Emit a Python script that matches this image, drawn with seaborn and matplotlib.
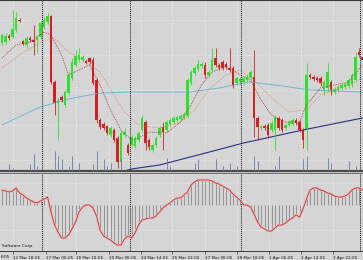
import numpy as np
import pandas as pd
import matplotlib
matplotlib.use("Agg")
import matplotlib.pyplot as plt
import seaborn as sns

# ---------------- data (price in chart points) ----------------
opens = [127, 128, 134, 133, 140, 150, 129, 125, 132, 130,
         130, 133, 143, 148, 154, 88, 67, 73, 65, 77,
         92, 105, 110, 110, 109, 112, 110, 90, 50, 46,
         44, 35, 40, 32, 8, 35, 25, 25, 24, 30,
         40, 48, 30, 20, 25, 35, 43, 40, 46, 48,
         50, 51, 53, 54, 87, 97, 101, 104, 105, 95,
         100, 112, 105, 108, 106, 102, 102, 87, 88, 88,
         90, 92, 93, 52, 42, 44, 45, 40, 40, 52,
         50, 42, 45, 46, 50, 48, 40, 40, 95, 93,
         92, 92, 80, 82, 88, 78, 80, 82, 83, 84,
         85, 90, 118, 113]
highs = [137, 137, 136, 160, 158, 152, 130, 134, 134, 145,
         135, 149, 153, 157, 155, 90, 72, 75, 80, 98,
         112, 120, 122, 115, 111, 113, 113, 92, 52, 48,
         45, 44, 42, 34, 40, 42, 27, 35, 34, 39,
         55, 50, 32, 27, 34, 44, 48, 50, 52, 54,
         55, 56, 58, 92, 100, 104, 110, 108, 108, 100,
         122, 122, 107, 110, 108, 122, 104, 94, 93, 94,
         95, 100, 120, 54, 45, 46, 47, 49, 55, 54,
         52, 47, 50, 52, 52, 50, 42, 107, 97, 95,
         94, 94, 90, 107, 90, 83, 85, 87, 88, 92,
         97, 118, 122, 115]
lows = [125, 126, 130, 132, 138, 148, 125, 123, 128, 115,
        117, 131, 141, 146, 86, 55, 30, 68, 63, 75,
        90, 103, 108, 108, 106, 106, 85, 47, 41, 40,
        35, 33, 28, 2, 5, 33, 15, 23, 22, 28,
        38, 20, 20, 18, 23, 33, 20, 38, 44, 46,
        48, 49, 51, 52, 85, 95, 99, 102, 92, 93,
        98, 103, 100, 100, 101, 98, 82, 85, 86, 86,
        88, 90, 33, 30, 40, 40, 32, 38, 20, 40,
        38, 40, 43, 44, 45, 38, 22, 20, 91, 89,
        88, 84, 75, 78, 75, 76, 78, 80, 81, 82,
        83, 88, 113, 108]
closes = [135, 134, 132, 141, 152, 149, 126, 132, 130, 128,
          133, 147, 150, 154, 88, 67, 70, 70, 78, 95,
          108, 114, 115, 113, 107, 108, 87, 50, 43, 42,
          37, 42, 30, 8, 37, 38, 17, 33, 32, 37,
          52, 27, 23, 25, 32, 42, 38, 48, 50, 52,
          53, 54, 56, 90, 98, 102, 106, 106, 95, 98,
          110, 105, 102, 102, 103, 100, 85, 92, 91, 92,
          93, 98, 52, 43, 44, 42, 35, 47, 53, 42,
          40, 45, 48, 50, 47, 40, 30, 95, 93, 91,
          90, 87, 88, 98, 80, 81, 83, 85, 86, 90,
          95, 113, 115, 110]

vol_bar = [2, 3, 8, 9, 10, 15, 16, 17, 19, 20, 22, 26, 27, 29, 30, 31, 34,
           41, 47, 48, 55, 56, 61, 63, 65, 67,
           72, 73, 78, 79, 86, 87, 93, 94, 99, 101]
vol_val = [7, 3, 7, 17, 5, 20, 15, 12, 5, 15, 8, 7, 20, 12, 5, 8, 13,
           2, 13, 5, 8, 12, 12, 5, 8, 5,
           15, 10, 5, 15, 12, 15, 13, 8, 10, 5]

osc = [15, 14, 13, 14, 17, 12, 10, 7, 5, 3,
       2, 4, 6, 8, -7, -20, -27, -33, -33, -30,
       -24, -17, -7, -2, 0, 0, -3, -11, -25, -31,
       -33, -35, -38, -40, -40, -34, -31, -33, -28, -20,
       -15, -14, -13, -13, -11, -7, -3, 0, 2, 5,
       7, 7, 10, 13, 20, 23, 25, 25, 25, 25,
       24, 22, 21, 19, 17, 15, 11, 8, 5, 0,
       0, -2, -9, -17, -22, -24, -26, -26, -23, -20,
       -20, -18, -15, -13, -10, -12, -4, 6, 15, 17,
       17, 15, 14, 12, 11, 9, 8, 8, 9, 11,
       15, 17, 17, 15]

cyan_bar = [0, 6, 11, 19, 28, 37, 54, 58, 62, 69, 71, 80, 88, 103]
cyan_val = [45, 55, 63, 71, 77, 78, 78, 80, 82, 87, 88, 84, 80, 78]
navy_bar = [34, 37, 45, 56, 69, 86, 103]
navy_val = [-2, 1, 5, 15, 27, 40, 52]
fast_bar = [0, 4, 8, 12, 14, 17, 19, 22, 25, 28, 31, 34, 37, 39, 42, 47,
            51, 54, 57, 60, 64, 68, 71, 74, 77, 81, 85, 87, 91, 95, 99, 103]
fast_val = [112, 125, 128, 138, 135, 115, 95, 100, 105, 85, 60, 40, 30, 32, 38, 37,
            48, 65, 85, 98, 104, 95, 90, 70, 55, 48, 48, 65, 82, 85, 88, 105]
slow_bar = [0, 5, 11, 15, 19, 24, 28, 32, 35, 39, 45, 51, 55, 59, 64, 68,
            72, 77, 82, 87, 91, 97, 103]
slow_val = [102, 115, 128, 132, 118, 108, 98, 75, 58, 45, 42, 48, 60, 80, 95, 100,
            90, 72, 58, 60, 75, 82, 92]

tick_labels = ["12 Mar 18:05", "17 Mar 06:05", "18 Mar 18:05", "20 Mar 06:05",
               "24 Mar 14:05", "25 Mar 22:05", "27 Mar 06:05", "28 Mar 18:05",
               "1 Apr 06:05", "2 Apr 14:05", "3 Apr 22:05"]
first_label = "6:05"

# ---------------- layout ----------------
tick_pos = [3.14, 12.57, 21.14, 30.57, 39.71, 48.57, 58.0, 67.14, 76.29, 85.43, 94.57]
sep_pos = [11.45, 36.6, 68.3, 102.3]

BG = "#d5d5d5"
GRID = "#f0f0f0"
UP = "#2fe02f"
DN = "#d22020"

sns.set_theme(style="white")
plt.rcParams["font.family"] = ["DejaVu Sans"]

W, H = 363, 260
fig = plt.figure(figsize=(W / 100, H / 100), dpi=100)
fig.patch.set_facecolor(BG)

ax = fig.add_axes([0, 1 - 171 / H, 1, 171 / H])
ax2 = fig.add_axes([0, 1 - 251 / H, 1, 78 / H], sharex=ax)
for a in (ax, ax2):
    a.set_facecolor(BG)
    for s in ("left", "right"):
        a.spines[s].set_visible(False)

xmin, xmax = -2 / 3.5, 361 / 3.5
ax.set_xlim(xmin, xmax)
ax.set_ylim(-1, 170)
ax2.set_ylim(-46, 32)

df = pd.DataFrame({"bar": np.arange(len(opens)), "open": opens, "high": highs,
                   "low": lows, "close": closes})
df["up"] = df["close"] >= df["open"]
df["col"] = np.where(df["up"], UP, DN)
df["bottom"] = df[["open", "close"]].min(axis=1)
df["body"] = (df["close"] - df["open"]).abs().clip(lower=0.8)

# grid
ax.set_yticks([10, 45, 80, 115, 150])
ax2.set_yticks([-25, 22])
for a in (ax, ax2):
    a.set_xticks(tick_pos)
    a.grid(True, color=GRID, linestyle=(0, (2, 2)), linewidth=0.5)
    a.tick_params(axis="y", left=False, labelleft=False)
ax.tick_params(axis="x", bottom=False, labelbottom=False)

# volume on twin axis
axv = ax.twinx()
axv.set_ylim(0, 171)
axv.axis("off")
axv.vlines(vol_bar, 0, vol_val, color="#6a7aa8", linewidth=0.6)

# moving averages
sns.lineplot(x=cyan_bar, y=cyan_val, ax=ax, color="#6fb9d3", linewidth=0.7)
sns.lineplot(x=navy_bar, y=navy_val, ax=ax, color="#2c2c86", linewidth=0.8)
sns.lineplot(x=slow_bar, y=slow_val, ax=ax, color="#d98a6a", linewidth=0.6,
             linestyle=(0, (1, 1.2)))
sns.lineplot(x=fast_bar, y=fast_val, ax=ax, color="#a82828", linewidth=0.6,
             linestyle=(0, (1, 1.2)))

# candles
ax.vlines(df["bar"], df["low"], df["high"], colors=df["col"], linewidth=0.6)
ax.bar(df["bar"], df["body"], bottom=df["bottom"], width=0.68, color=df["col"],
       linewidth=0)

# separators
for a in (ax, ax2):
    for p in sep_pos:
        a.axvline(p, color="#111111", linestyle=(0, (1, 1)), linewidth=0.7)

# spines
ax.spines["top"].set_color("#3a3a3a")
ax.spines["top"].set_linewidth(0.8)
ax.spines["bottom"].set_color("#4a4a4a")
ax.spines["bottom"].set_linewidth(1.6)
ax2.spines["top"].set_color("#5a5a5a")
ax2.spines["top"].set_linewidth(0.6)
ax2.spines["bottom"].set_color("#3a3a3a")
ax2.spines["bottom"].set_linewidth(0.7)

# oscillator
osc_bar = np.arange(len(osc))
ax2.vlines(osc_bar, 0, osc, color="#7a7a7a", linewidth=0.5)
sns.lineplot(x=osc_bar, y=osc, ax=ax2, color="#f1b3b3", linewidth=1.6)
sns.lineplot(x=osc_bar, y=osc, ax=ax2, color="#b83030", linewidth=0.55)
ax2.set_xlabel("")
ax2.set_ylabel("")
ax.set_xlabel("")
ax.set_ylabel("")

ax2.set_xticklabels(tick_labels, ha="left")
ax2.tick_params(axis="x", bottom=True, direction="out", length=2.5, width=0.5,
                color="#333333", labelsize=3.0, pad=0.8, labelcolor="#111111")

fig.text(0.5 / W, 1 - 256.5 / H, first_label, fontsize=3.0, color="#111111",
         ha="left", va="center")
fig.text(2 / W, 1 - 246.5 / H, "Software Corp.", fontsize=3.1, color="#111111",
         ha="left", va="center")

fig.savefig("out.png", dpi=100, facecolor=BG)
